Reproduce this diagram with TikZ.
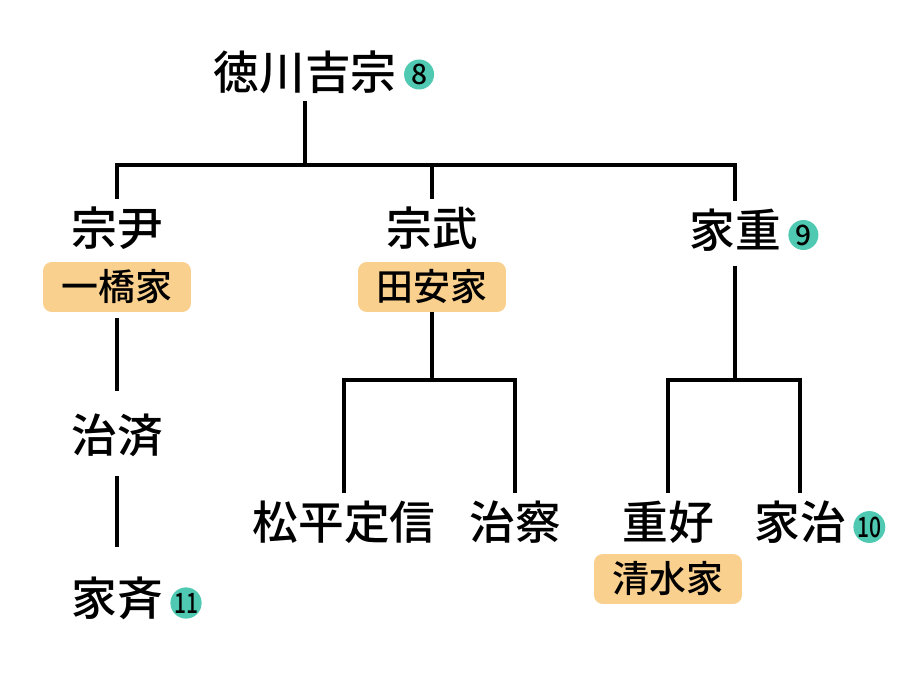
\documentclass[tikz,border=0pt]{standalone}
\usepackage{fontspec}
\setmainfont{Noto Sans CJK JP Medium}
\usetikzlibrary{positioning}
\definecolor{housefill}{HTML}{FAD08E}
\definecolor{badgefill}{HTML}{4FC9B2}
\tikzstyle{person}=[inner sep=4pt,font=\fontsize{26}{30}\selectfont]
\tikzstyle{house}=[rectangle,rounded corners=5pt,fill=housefill,minimum width=2.96cm,minimum height=1cm,inner sep=0pt,font=\fontsize{21}{24}\selectfont]
\tikzstyle{badge}=[circle,fill=badgefill,minimum size=0.6cm,inner sep=0pt,font=\fontsize{16}{17}\selectfont]
\tikzstyle{gen}=[line width=2.1pt]

\begin{document}
\begin{tikzpicture}[x=0.02cm,y=-0.02cm]
      \useasboundingbox (0,0) rectangle (913,679);
      % first row
      \node [person] (yoshimune) at (305,72) {徳川吉宗};
      \node [badge] (b8) [right=0pt of yoshimune,yshift=-0.05cm] {8};
      \node [person] (munetada) at (117,228) {宗尹};
      \node [person] (munetake) at (432,228) {宗武};
      \node [person] (ieshige) at (735,230) {家重};
      \node [badge] (b9) [right=0pt of ieshige,yshift=-0.1cm] {9};
      \node [house] (hitotsubashi) at (117,287) {一橋家};
      \node [house] (tayasu) at (432,287) {田安家};
      % lower rows
      \node [person] (harusada) at (117,435) {治済};
      \node [person] (ienari) at (117,598) {家斉};
      \node [badge] (b11) [right=0pt of ienari,yshift=-0.1cm] {\scalebox{0.75}[1]{11}};
      \node [person] (sadanobu) at (344,522) {松平定信};
      \node [person] (haruaki) at (515,522) {治察};
      \node [person] (shigeyoshi) at (668,522) {重好};
      \node [house] (shimizu) at (668,579) {清水家};
      \node [person] (ieharu) at (800,522) {家治};
      \node [badge] (b10) [right=0pt of ieharu,yshift=-0.1cm] {\scalebox{0.75}[1]{10}};
      % connectors
      \coordinate (j1) at (305,165);
      \coordinate (j2) at (432,380);
      \coordinate (j3) at (735,380);
      \draw [gen] (yoshimune) -- (j1);
      \draw [gen] (j1) -| (munetada);
      \draw [gen] (j1) -| (munetake);
      \draw [gen] (j1) -| (ieshige);
      \draw [gen,shorten <=0.12cm,shorten >=0.3cm] (hitotsubashi) -- (harusada);
      \draw [gen,shorten <=0.25cm,shorten >=0.45cm] (harusada) -- (ienari);
      \draw [gen] (tayasu) -- (j2);
      \draw [gen] (j2) -| (sadanobu);
      \draw [gen] (j2) -| (haruaki);
      \draw [gen,shorten <=0.14cm] (ieshige) -- (j3);
      \draw [gen] (j3) -| (shigeyoshi);
      \draw [gen] (j3) -| (ieharu);
    \end{tikzpicture}
\end{document}
